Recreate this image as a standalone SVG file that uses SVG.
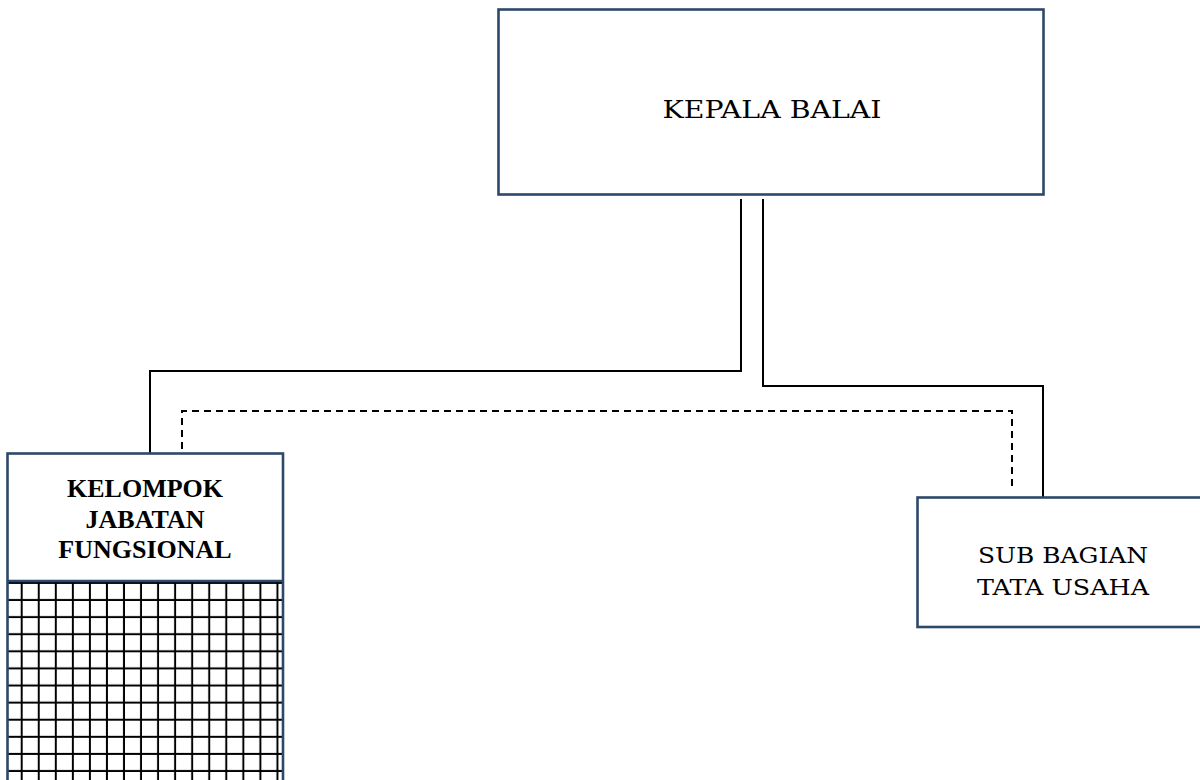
<svg xmlns="http://www.w3.org/2000/svg" width="1200" height="780" viewBox="0 0 1200 780">
<style>
.box{fill:#fff;stroke:#2d4868;stroke-width:2.6}
.conn{fill:none;stroke:#000;stroke-width:2}
.dash{stroke-dasharray:7,5}
.t{font-family:"DejaVu Serif","Liberation Serif",serif;fill:#000;text-anchor:middle}
.b{font-family:"Liberation Serif",serif;font-weight:bold;fill:#000;text-anchor:middle;font-size:26px}
</style>
<defs>
<pattern id="grid" patternUnits="userSpaceOnUse" x="13.2" y="591.5" width="17.05" height="17.1">
<rect width="17.05" height="17.1" fill="#fff"/>
<line x1="8.5" y1="0" x2="8.5" y2="17.1" stroke="#000" stroke-width="2"/>
<line x1="0" y1="8.5" x2="17.05" y2="8.5" stroke="#000" stroke-width="2"/>
</pattern>
</defs>
<rect width="1200" height="780" fill="#fff"/>
<g id="connectors">
<path class="conn" d="M741,199 V371 H150 V453"/>
<path class="conn" d="M763,199 V386 H1043 V497"/>
<path class="conn dash" d="M182,449 V411 H1012 V491"/>
</g>
<g id="kepala-balai">
<rect class="box" x="498.5" y="9.5" width="545" height="185"/>
<text class="t" x="772" y="118" font-size="25" textLength="219" lengthAdjust="spacingAndGlyphs">KEPALA BALAI</text>
</g>
<g id="kelompok-jabatan-fungsional">
<rect x="7.5" y="581" width="275.5" height="205" fill="url(#grid)"/>
<rect class="box" x="7.5" y="453.5" width="275.5" height="335" fill="none" style="fill:none"/>
<line x1="7.5" y1="581" x2="283" y2="581" stroke="#2d4868" stroke-width="2.6"/>
<text class="b" x="145" y="497">KELOMPOK</text>
<text class="b" x="145" y="528">JABATAN</text>
<text class="b" x="145" y="558">FUNGSIONAL</text>
</g>
<g id="sub-bagian-tata-usaha">
<rect class="box" x="917.5" y="497.5" width="295" height="129.5"/>
<text class="t" x="1063" y="563" font-size="23" textLength="170" lengthAdjust="spacingAndGlyphs">SUB BAGIAN</text>
<text class="t" x="1063" y="595" font-size="23" textLength="172" lengthAdjust="spacingAndGlyphs">TATA USAHA</text>
</g>
</svg>
